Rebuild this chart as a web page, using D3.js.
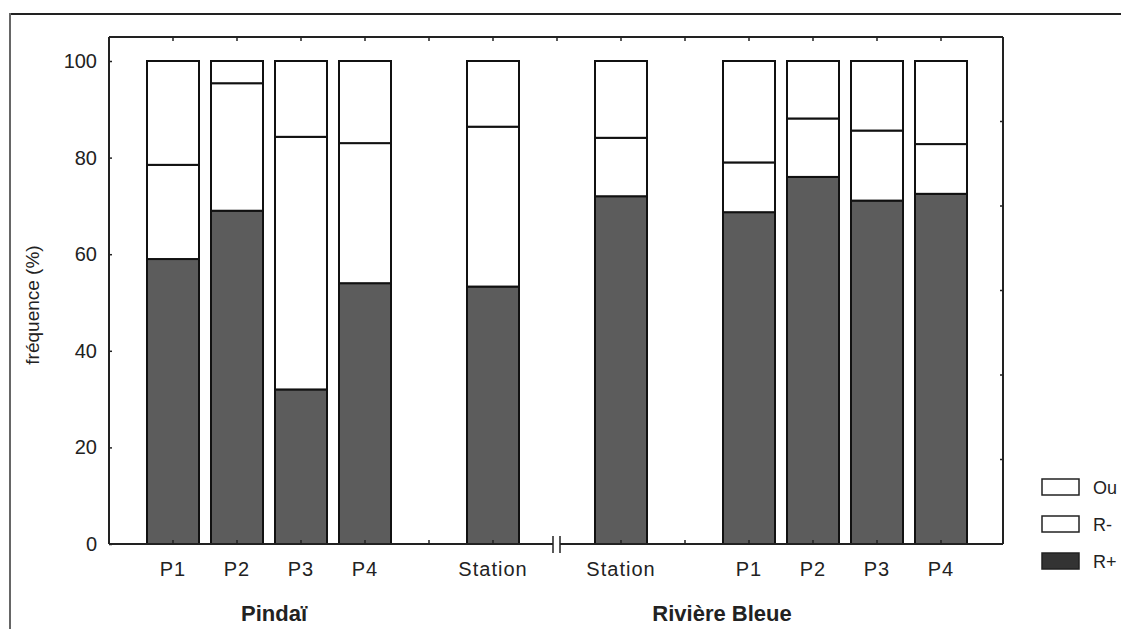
<!DOCTYPE html>
<html>
<head>
<meta charset="utf-8">
<script src="https://cdn.jsdelivr.net/npm/d3@7"></script>
<style>
  html, body { margin: 0; padding: 0; background: #fff; overflow: hidden; }
  svg { display: block; font-family: "Liberation Sans", Arial, sans-serif; }
</style>
</head>
<body>
<svg id="chart" width="1121" height="629"></svg>
<script>
// Slots along the x axis (empty slots keep the spacing between groups)
const slots = ["pin-P1", "pin-P2", "pin-P3", "pin-P4", "gap-a", "pin-Station", "break",
               "rb-Station", "gap-b", "rb-P1", "rb-P2", "rb-P3", "rb-P4"];
const siteKeys   = ["pin-P1", "pin-P2", "pin-P3", "pin-P4", "pin-Station",
                    "rb-Station", "rb-P1", "rb-P2", "rb-P3", "rb-P4"];
const siteLabels = ["P1", "P2", "P3", "P4", "Station", "Station", "P1", "P2", "P3", "P4"];

// Frequencies (%) per category
const rPlus  = [59.0, 69.0, 32.0, 54.0, 53.3, 72.0, 68.7, 76.0, 71.1, 72.5];
const rMinus = [19.5, 26.4, 52.3, 29.0, 33.1, 12.1, 10.3, 12.1, 14.5, 10.3];
const ouv    = [21.5,  4.6, 15.7, 17.0, 13.6, 15.9, 21.0, 11.9, 14.4, 17.2];

const yTicks = [0, 20, 40, 60, 80, 100];
// Group titles, placed between two slot centres
const groups = [
  { name: "Pindaï", a: "pin-P2", b: "pin-P3", shift: 5 },
  { name: "Rivière Bleue", a: "gap-b", b: "rb-P1", shift: 5 }
];
const seriesKeys = ["R+", "R-", "Ou"];
const legendItems = ["Ou", "R-", "R+"];

const svg = d3.select("#chart");
const frame = { left: 109, right: 1003, top: 37, bottom: 544 };

const x = d3.scaleBand().domain(slots).range([141, 973])
  .paddingInner(0.1875).paddingOuter(0.09375);
const cx = k => x(k) + x.bandwidth() / 2;
const y = d3.scaleLinear().domain([0, 100]).range([544, 61]);

const rows = siteKeys.map((k, i) => ({ key: k, "R+": rPlus[i], "R-": rMinus[i], "Ou": ouv[i] }));
const stacked = d3.stack().keys(seriesKeys)(rows);
const fills = { "R+": "#5c5c5c", "R-": "#ffffff", "Ou": "#ffffff" };

// Outer page frame
svg.append("line").attr("x1", 10).attr("x2", 1121).attr("y1", 14).attr("y2", 14)
  .attr("stroke", "#222").attr("stroke-width", 2);
svg.append("line").attr("x1", 10).attr("x2", 10).attr("y1", 13).attr("y2", 629)
  .attr("stroke", "#666").attr("stroke-width", 2);

// Stacked bars
const layer = svg.append("g");
stacked.forEach(s => {
  layer.selectAll(null).data(s).enter().append("rect")
    .attr("x", d => x(d.data.key))
    .attr("width", x.bandwidth())
    .attr("y", d => y(d[1]))
    .attr("height", d => y(d[0]) - y(d[1]))
    .attr("fill", fills[s.key])
    .attr("stroke", "#111")
    .attr("stroke-width", 2);
});

// Plot frame: top and right lines
svg.append("line").attr("x1", frame.left).attr("x2", frame.right)
  .attr("y1", frame.top).attr("y2", frame.top).attr("stroke", "#222").attr("stroke-width", 2);
svg.append("line").attr("x1", frame.right).attr("x2", frame.right)
  .attr("y1", frame.top).attr("y2", frame.bottom).attr("stroke", "#222").attr("stroke-width", 2);

// Left axis
const yAxis = svg.append("g").attr("transform", `translate(${frame.left},0)`)
  .call(d3.axisLeft(y).tickValues(yTicks).tickSize(-3).tickPadding(12).tickSizeOuter(0));
yAxis.select(".domain").remove();
yAxis.append("line").attr("x1", 0).attr("x2", 0).attr("y1", frame.top).attr("y2", frame.bottom)
  .attr("stroke", "#222").attr("stroke-width", 2);
yAxis.selectAll(".tick line").attr("stroke", "#222").attr("stroke-width", 1.5);
yAxis.selectAll(".tick text").attr("font-size", 20).attr("fill", "#222")
  .attr("font-family", "'Liberation Sans', Arial, sans-serif");

// Right axis ticks (six equal divisions)
const yRight = d3.scaleLinear().domain([0, 6]).range([frame.bottom, frame.top]);
svg.append("g").selectAll("line").data([1, 2, 3, 4, 5]).enter().append("line")
  .attr("x1", frame.right - 3).attr("x2", frame.right)
  .attr("y1", d => yRight(d)).attr("y2", d => yRight(d))
  .attr("stroke", "#222").attr("stroke-width", 1.5);

// Top ticks at every slot centre
svg.append("g").selectAll("line").data(slots).enter().append("line")
  .attr("x1", cx).attr("x2", cx)
  .attr("y1", frame.top).attr("y2", frame.top + 4)
  .attr("stroke", "#222").attr("stroke-width", 1.5);

// Bottom axis with a break mark
const xBreak = cx("break");
const bottom = svg.append("g");
bottom.append("line").attr("x1", frame.left).attr("x2", xBreak - 4)
  .attr("y1", frame.bottom).attr("y2", frame.bottom).attr("stroke", "#222").attr("stroke-width", 2);
bottom.append("line").attr("x1", xBreak + 3).attr("x2", frame.right)
  .attr("y1", frame.bottom).attr("y2", frame.bottom).attr("stroke", "#222").attr("stroke-width", 2);
[-4, 3].forEach(dx => {
  bottom.append("line").attr("x1", xBreak + dx).attr("x2", xBreak + dx)
    .attr("y1", frame.bottom - 8).attr("y2", frame.bottom + 9)
    .attr("stroke", "#222").attr("stroke-width", 1.5);
});
bottom.selectAll(null).data(slots.filter(s => s !== "break")).enter().append("line")
  .attr("x1", cx).attr("x2", cx)
  .attr("y1", frame.bottom).attr("y2", frame.bottom - 4)
  .attr("stroke", "#222").attr("stroke-width", 1.5);

// Category labels
svg.append("g").selectAll("text").data(siteKeys).enter().append("text")
  .attr("x", cx)
  .attr("y", 576)
  .attr("text-anchor", "middle")
  .attr("font-size", 20).attr("letter-spacing", 1).attr("fill", "#222")
  .text((d, i) => siteLabels[i]);

// Group labels
svg.append("g").selectAll("text").data(groups).enter().append("text")
  .attr("x", d => (cx(d.a) + cx(d.b)) / 2 + d.shift)
  .attr("y", 621)
  .attr("text-anchor", "middle")
  .attr("font-size", 22).attr("font-weight", "bold").attr("fill", "#222")
  .text(d => d.name);

// Y axis title
svg.append("text")
  .attr("transform", "translate(39,305) rotate(-90)")
  .attr("text-anchor", "middle")
  .attr("font-size", 19).attr("fill", "#222")
  .text("fréquence (%)");

// Legend
const legendFill = { "Ou": "#ffffff", "R-": "#ffffff", "R+": "#333333" };
const legendY = d3.scalePoint().domain(legendItems).range([487, 561]);
const lg = svg.append("g");
legendItems.forEach(k => {
  lg.append("rect").attr("x", 1042).attr("y", legendY(k) - 8).attr("width", 37).attr("height", 16)
    .attr("fill", legendFill[k]).attr("stroke", "#222").attr("stroke-width", 1.5);
  lg.append("text").attr("x", 1093).attr("y", legendY(k) + 7)
    .attr("font-size", 18).attr("fill", "#222").text(k);
});
</script>
</body>
</html>
